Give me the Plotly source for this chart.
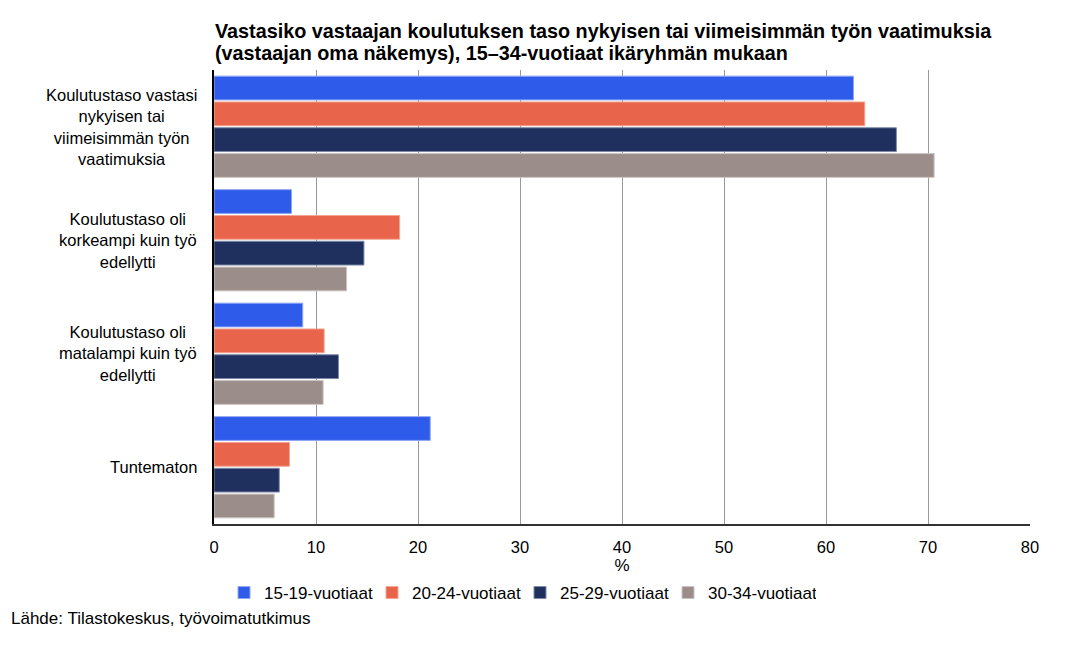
import plotly.graph_objects as go

categories = [
    "Koulutustaso vastasi<br>nykyisen tai<br>viimeisimmän työn<br>vaatimuksia",
    "Koulutustaso oli<br>korkeampi kuin työ<br>edellytti",
    "Koulutustaso oli<br>matalampi kuin työ<br>edellytti",
    "Tuntematon",
]
series_names = ["15-19-vuotiaat", "20-24-vuotiaat", "25-29-vuotiaat", "30-34-vuotiaat"]
v15_19 = [62.7, 7.6, 8.7, 21.2]
v20_24 = [63.8, 18.2, 10.8, 7.4]
v25_29 = [66.9, 14.7, 12.2, 6.4]
v30_34 = [70.6, 13.0, 10.7, 5.9]
x_ticks = [0, 10, 20, 30, 40, 50, 60, 70, 80]
title_lines = [
    "Vastasiko vastaajan koulutuksen taso nykyisen tai viimeisimmän työn vaatimuksia",
    "(vastaajan oma näkemys), 15–34-vuotiaat ikäryhmän mukaan",
]
source_text = "Lähde: Tilastokeskus, työvoimatutkimus"

colors = ["#2F5BEA", "#E8644A", "#1F2F5E", "#9B8E8A"]
line_colors = ["#8FA6F2", "#F2A594", "#7F8AA8", "#CBC4C1"]

W, H = 1083, 663
L, R, T, B = 214, 53, 70, 139
plot_w = W - L - R
plot_h = H - T - B
FONT = "Liberation Sans, Arial, sans-serif"


def px_x(x):
    return (x - L) / plot_w


def px_y(y):
    return (H - B - y) / plot_h


fig = go.Figure()
for name, vals, c, lc in zip(series_names, [v15_19, v20_24, v25_29, v30_34], colors, line_colors):
    fig.add_trace(go.Bar(
        y=list(range(len(categories))), x=vals, name=name, orientation="h",
        marker=dict(color=c, line=dict(color=lc, width=1)),
    ))

for i, cat in enumerate(categories):
    fig.add_annotation(
        x=px_x(199), xref="paper", y=i, yref="y", text=cat, showarrow=False,
        xanchor="right", yanchor="middle", align="center",
        font=dict(family=FONT, size=16.5, color="#000"),
    )

for txt, yc in zip(title_lines, [31, 53]):
    fig.add_annotation(
        x=px_x(213), xref="paper", y=px_y(yc), yref="paper", text="<b>" + txt + "</b>",
        showarrow=False, xanchor="left", yanchor="middle", align="left",
        font=dict(family=FONT, size=19.8, color="#000"),
    )

fig.add_annotation(
    x=px_x(9), xref="paper", y=px_y(618), yref="paper",
    text=source_text, showarrow=False, xanchor="left", yanchor="middle",
    font=dict(family=FONT, size=17, color="#000"),
)

fig.update_layout(
    width=W, height=H,
    margin=dict(l=L, r=R, t=T, b=B),
    paper_bgcolor="white", plot_bgcolor="white",
    barmode="group", bargap=0.09, bargroupgap=0.08,
    font=dict(family=FONT, size=17, color="#000"),
    xaxis=dict(
        range=[0, 80], tickvals=x_ticks, showgrid=True, gridcolor="#999999", gridwidth=1,
        showline=True, linecolor="#333333", linewidth=1.5, zeroline=False,
        ticks="", ticklabelstandoff=7,
        title=dict(text="%", standoff=2, font=dict(size=17)),
        tickfont=dict(size=16.5),
    ),
    yaxis=dict(
        range=[3.5, -0.5], showticklabels=False, showgrid=False, zeroline=False,
        showline=True, linecolor="#000000", linewidth=1.5, ticks="",
    ),
    legend=dict(
        orientation="h", x=px_x(520), xanchor="center", y=px_y(575), yanchor="top",
        font=dict(size=17), traceorder="normal", entrywidth=103,
    ),
    showlegend=True,
)

fig.write_html("out.html")
